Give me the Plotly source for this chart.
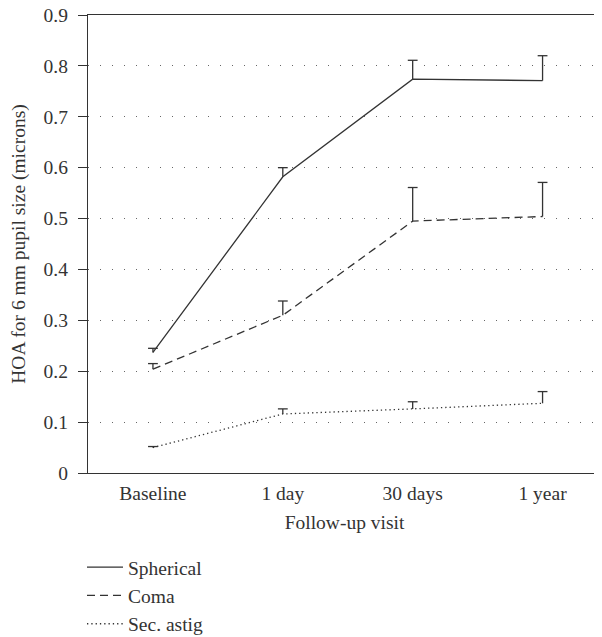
import plotly.graph_objects as go

visits = ["Baseline", "1 day", "30 days", "1 year"]
spherical = [0.237, 0.582, 0.774, 0.771]
spherical_err = [0.008, 0.018, 0.037, 0.049]
coma = [0.204, 0.310, 0.495, 0.504]
coma_err = [0.011, 0.028, 0.066, 0.067]
astig = [0.050, 0.116, 0.126, 0.137]
astig_err = [0.002, 0.010, 0.014, 0.023]
yticks = [0, 0.1, 0.2, 0.3, 0.4, 0.5, 0.6, 0.7, 0.8, 0.9]
ytick_text = ["0", "0.1", "0.2", "0.3", "0.4", "0.5", "0.6", "0.7", "0.8", "0.9"]

C = "#333333"
FONT = "Liberation Serif"
FS = 19.5

fig = go.Figure()
for name, vals, errs, dash in [
    ("Spherical", spherical, spherical_err, "solid"),
    ("Coma", coma, coma_err, "8px,5px"),
    ("Sec. astig", astig, astig_err, "1.3px,3px"),
]:
    fig.add_trace(go.Scatter(
        x=visits, y=vals, name=name, mode="lines",
        line=dict(color=C, width=1.3, dash=dash),
        error_y=dict(type="data", array=errs, arrayminus=[0] * len(errs),
                     symmetric=False, color=C, thickness=1.3, width=0),
    ))
    # top caps of the error bars
    fig.add_trace(go.Scatter(
        x=visits, y=[v + e for v, e in zip(vals, errs)], mode="markers",
        marker=dict(symbol="line-ew", size=7, line=dict(color=C, width=1.3)),
        showlegend=False, hoverinfo="skip",
    ))

# the page body has an 8px margin; the figure is placed so the plot sits where the reference has it
# (the figure is a bit taller than the window so the legend never squeezes the plot area)
fig.update_layout(
    width=594, height=660,
    margin=dict(l=80, r=1, t=7, b=195),
    plot_bgcolor="white", paper_bgcolor="white",
    font=dict(family=FONT, size=FS, color=C),
    showlegend=True,
    legend=dict(x=-0.0117, y=-0.1635, xanchor="left", yanchor="top",
                font=dict(family=FONT, size=FS, color=C), traceorder="normal",
                itemwidth=36, bgcolor="rgba(0,0,0,0)"),
    xaxis=dict(
        type="category", range=[-0.5, 3.45], automargin=False,
        showline=True, linecolor=C, linewidth=1.3, mirror=True,
        showgrid=False, ticks="", zeroline=False, ticklabelstandoff=2,
        title=dict(text="Follow-up visit", font=dict(family=FONT, size=FS), standoff=12),
        tickfont=dict(family=FONT, size=FS),
    ),
    yaxis=dict(
        range=[0, 0.9], tickvals=yticks, ticktext=ytick_text, automargin=False,
        showline=True, linecolor=C, linewidth=1.3, ticklabeloverflow="allow",
        ticks="outside", ticklen=9, tickcolor=C, tickwidth=1.3, ticklabelstandoff=6,
        showgrid=True, gridcolor="#666666", griddash="1px,11px", gridwidth=1,
        zeroline=False,
        title=dict(text="HOA for 6 mm pupil size (microns)", font=dict(family=FONT, size=FS), standoff=18),
        tickfont=dict(family=FONT, size=FS),
    ),
)

fig.write_html("out.html")
